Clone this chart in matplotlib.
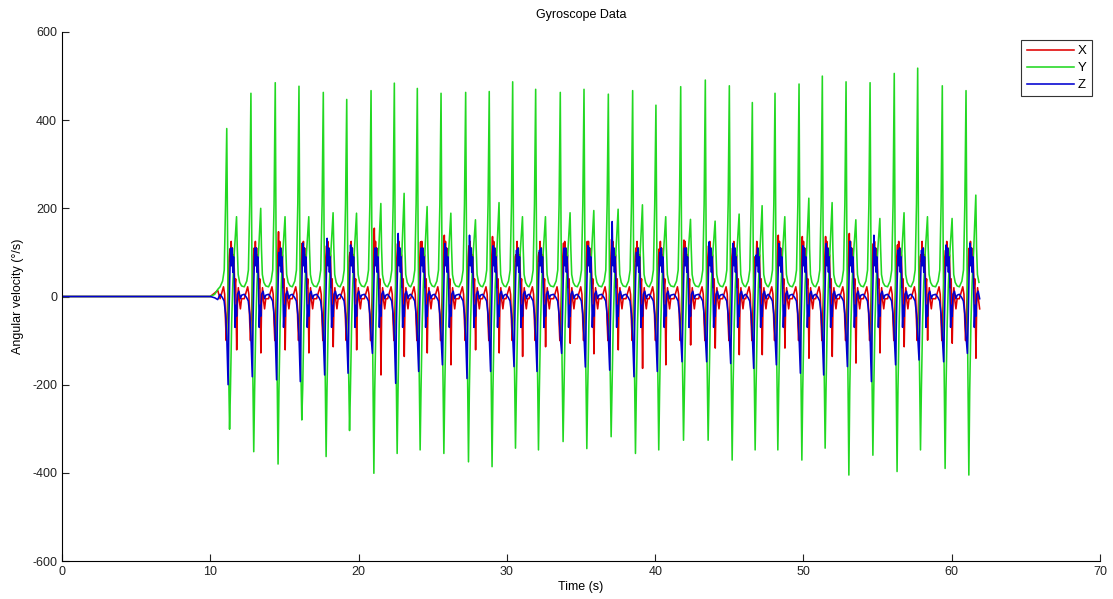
import numpy as np
import matplotlib.pyplot as plt

# time of the big Y peak of each stride (s)
peak_t = [11.11, 12.74, 14.38, 15.98, 17.62, 19.20, 20.84, 22.41, 23.96, 25.56,
          27.22, 28.81, 30.39, 31.94, 33.60, 35.20, 36.84, 38.48, 40.05, 41.72,
          43.38, 45.00, 46.55, 48.08, 49.70, 51.27, 52.87, 54.49, 56.12, 57.70,
          59.36, 60.96]

# Y (green): main peak, trough just after, secondary peak
y_peak = [381, 461, 485, 477, 463, 447, 467, 484, 472, 461, 463, 465, 487, 470, 463, 470,
          459, 467, 434, 476, 491, 478, 440, 461, 482, 500, 487, 485, 506, 518, 478, 467]
y_trough = [-301, -352, -380, -280, -363, -304, -401, -356, -348, -356, -375, -386, -344, -348, -329, -345,
            -318, -356, -348, -326, -326, -371, -348, -348, -371, -344, -405, -360, -397, -348, -390, -405]
y_second = [181, 200, 181, 181, 190, 189, 211, 234, 204, 189, 174, 213, 181, 181, 190, 195,
            198, 208, 181, 175, 171, 187, 206, 181, 223, 213, 174, 177, 190, 181, 177, 230]

# X (red): positive peak and late negative spike
x_peak = [108, 110, 147, 121, 115, 100, 155, 120, 124, 139, 115, 136, 95, 100, 121, 125,
          130, 110, 108, 128, 115, 110, 85, 139, 136, 136, 143, 120, 117, 95, 105, 110]
x_trough = [-121, -128, -121, -128, -114, -121, -178, -136, -128, -155, -121, -128, -136, -114, -106, -130,
            -121, -163, -155, -110, -117, -132, -132, -117, -140, -136, -151, -128, -114, -99, -106, -140]

# Z (blue): negative spike at the Y peak and positive peak after it
z_peak = [110, 110, 100, 121, 132, 117, 110, 143, 110, 120, 139, 115, 105, 105, 110, 115,
          170, 100, 100, 110, 124, 121, 94, 120, 115, 120, 125, 139, 105, 105, 117, 121]
z_trough = [-200, -182, -189, -193, -178, -174, -129, -197, -170, -155, -186, -170, -159, -170, -129, -160,
            -167, -182, -170, -148, -148, -152, -163, -155, -174, -178, -159, -193, -155, -144, -148, -129]

# still phase before walking starts
lead_t = [0.0, 10.0, 10.3, 10.5]
lead_x = [0, 0, 8, 14]
lead_y = [0, 0, 5, 16]
lead_z = [0, 0, -3, -7]

# shape of one stride, offsets from the Y peak (s), read from a typical stride
y_off = [-0.45, -0.28, -0.17, -0.08, 0.0, 0.05, 0.12, 0.19, 0.25, 0.33, 0.41, 0.51, 0.66, 0.71, 0.77, 0.87, 1.0]
y_val = [22, 35, 60, 210, None, 160, -150, None, -210, -60, 30, 100, None, 110, 50, 32, 24]
x_off = [-0.45, -0.32, -0.22, -0.14, -0.08, -0.03, 0.03, 0.10, 0.17, 0.22, 0.26, 0.30, 0.34,
         0.38, 0.43, 0.48, 0.54, 0.60, 0.67, 0.72, 0.78, 0.85, 0.92, 1.0]
x_val = [-5, 10, 22, 5, -60, -100, -40, 30, 90, None, 80, 125, 70,
         110, 60, 95, 20, 40, None, -15, 20, -10, -28, -5]
z_off = [-0.45, -0.30, -0.18, -0.08, 0.0, 0.09, 0.14, 0.20, 0.26, 0.31, 0.36, 0.41, 0.46,
         0.51, 0.56, 0.61, 0.66, 0.72, 0.82, 0.92, 1.0]
z_val = [5, -2, -10, -40, -90, None, -60, 40, None, 70, 110, 55, 90,
         30, -70, -20, -45, 5, 12, -5, 3]


def fill(vals, slots):
    # put the stride's own extremes into the empty slots of the shape
    it = iter(slots)
    return [next(it) if v is None else v for v in vals]


def build():
    tx, vx = list(lead_t), list(lead_x)
    ty, vy = list(lead_t), list(lead_y)
    tz, vz = list(lead_t), list(lead_z)
    for i, tp in enumerate(peak_t):
        ty += [tp + o for o in y_off]
        vy += fill(y_val, [y_peak[i], y_trough[i], y_second[i]])
        tx += [tp + o for o in x_off]
        vx += fill(x_val, [x_peak[i], x_trough[i]])
        tz += [tp + o for o in z_off]
        vz += fill(z_val, [z_trough[i], z_peak[i]])
    return (np.array(tx), np.array(vx)), (np.array(ty), np.array(vy)), (np.array(tz), np.array(vz))


(tx, gx), (ty, gy), (tz, gz) = build()
t_end = 61.9
mx, my, mz = tx <= t_end, ty <= t_end, tz <= t_end

plt.rcParams['font.family'] = ['Liberation Sans', 'DejaVu Sans']
plt.rcParams['axes.unicode_minus'] = False
fig = plt.figure(figsize=(11.13, 5.99), dpi=100)
ax = fig.add_axes([0.0557, 0.0634, 0.9327, 0.8832])

ax.plot(tx[mx], gx[mx], color='#e00000', lw=1.15, label='X')
ax.plot(ty[my], gy[my], color='#22d822', lw=1.15, label='Y')
ax.plot(tz[mz], gz[mz], color='#0000d0', lw=1.15, label='Z')

ax.set_xlim(0, 70)
ax.set_ylim(-600, 600)
ax.set_xticks(range(0, 71, 10))
ax.set_yticks(range(-600, 601, 200))
ax.spines['top'].set_visible(False)
ax.spines['right'].set_visible(False)
ax.tick_params(direction='in', length=5, labelsize=9, colors='#222222')
ax.set_title('Gyroscope Data', fontsize=9, pad=10)
ax.set_xlabel('Time (s)', fontsize=9, labelpad=2)
ax.set_ylabel('Angular velocity (°/s)', fontsize=9, labelpad=6)

leg = ax.legend(loc='upper right', bbox_to_anchor=(0.995, 0.99), fancybox=False,
                edgecolor='#333333', framealpha=1, fontsize=9.5, handlelength=3.6,
                borderaxespad=0.2, labelspacing=0.35, handletextpad=0.3)
leg.get_frame().set_linewidth(0.8)

fig.savefig('out.png', dpi=100)
